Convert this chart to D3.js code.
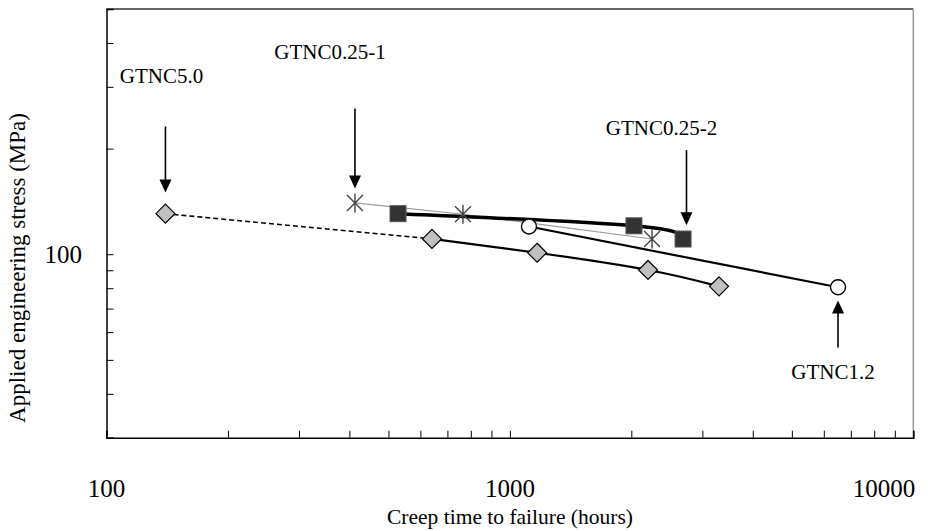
<!DOCTYPE html>
<html>
<head>
<meta charset="utf-8">
<script src="https://cdn.jsdelivr.net/npm/d3@7"></script>
<style>
  body { margin: 0; background: #fff; }
</style>
</head>
<body>
<svg id="chart" width="950" height="531"></svg>
<script>
// creep time (hours) and stress (MPa)
const gtnc50Time = [140, 641, 1168, 2200, 3299];
const gtnc50Stress = [130.5, 110.6, 101, 90.2, 81];
const gtnc025aTime = [413, 765, 2251];
const gtnc025aStress = [140, 130, 110.5];
const gtnc025bTime = [528, 2030, 2687];
const gtnc025bStress = [130.5, 120.5, 110.5];
const gtnc12Time = [1115, 6507];
const gtnc12Stress = [120, 80.5];

const xTicks = [100, 1000, 10000];
const yTickLabels = [100];

// arrow annotations: where the tip points (data units), label text
const notes = [
    { name: "GTNC5.0", t: 140, s: 150, up: false },
    { name: "GTNC0.25-1", t: 413, s: 154, up: false },
    { name: "GTNC0.25-2", t: 2740, s: 121, up: false },
    { name: "GTNC1.2", t: 6507, s: 73.8, up: true }
];

const serif = "'Liberation Serif', 'Times New Roman', serif";

const svg = d3.select("#chart")
    .attr("font-family", serif);

const x = d3.scaleLog().domain([100, 10000]).range([106.5, 913.3]);
const y = d3.scaleLog().domain([30, 500]).range([437.7, 9]);

function zip(ts, ss) {
    return ts.map((t, i) => ({ t: t, s: ss[i] }));
}

const line = d3.line()
    .x(d => x(d.t))
    .y(d => y(d.s));

const smooth = d3.line()
    .x(d => x(d.t))
    .y(d => y(d.s))
    .curve(d3.curveNatural);

// frame: top and right lines are lighter
svg.append("line").attr("x1", x(100)).attr("x2", x(10000)).attr("y1", y(500)).attr("y2", y(500))
    .attr("stroke", "#333").attr("stroke-width", 1.5);
svg.append("line").attr("x1", x(10000)).attr("x2", x(10000)).attr("y1", y(500)).attr("y2", y(30))
    .attr("stroke", "#999").attr("stroke-width", 1.5);

// y axis, ticks pointing inwards
const yTickVals = [30, 40, 50, 60, 70, 80, 90, 100, 200, 300, 400, 500];
svg.append("g")
    .attr("transform", "translate(" + x(100) + ",0)")
    .call(d3.axisRight(y).tickValues(yTickVals).tickSize(7).tickFormat(""))
    .call(g => g.select(".domain").attr("stroke-width", 1.5));

svg.append("g").selectAll("text")
    .data(yTickLabels)
    .enter().append("text")
    .attr("x", 82)
    .attr("y", d => y(d))
    .attr("dy", "0.35em")
    .attr("text-anchor", "end")
    .style("font-family", serif)
    .style("font-size", "25px")
    .text(d => d);

// x axis, ticks pointing up
const xTickVals = d3.range(1, 10).map(d => d * 100).concat(d3.range(1, 11).map(d => d * 1000));
svg.append("g")
    .attr("transform", "translate(0," + y(30) + ")")
    .call(d3.axisTop(x).tickValues(xTickVals).tickSize(7).tickFormat(""))
    .call(g => g.select(".domain").attr("stroke-width", 1.5));

svg.append("g").selectAll("text")
    .data(xTicks)
    .enter().append("text")
    .attr("x", d => d === 10000 ? x(d) + 2 : x(d))
    .attr("y", 497)
    .attr("text-anchor", d => d === 10000 ? "end" : "middle")
    .style("font-family", serif)
    .style("font-size", "25px")
    .text(d => d);

// axis titles
svg.append("text")
    .attr("x", 510)
    .attr("y", 524)
    .attr("text-anchor", "middle")
    .style("font-family", serif)
    .style("font-size", "21.5px")
    .text("Creep time to failure (hours)");

svg.append("text")
    .attr("transform", "translate(25,268) rotate(-90)")
    .attr("text-anchor", "middle")
    .style("font-family", serif)
    .style("font-size", "23px")
    .text("Applied engineering stress (MPa)");

// lines
const d50 = zip(gtnc50Time, gtnc50Stress);
const d025a = zip(gtnc025aTime, gtnc025aStress);
const d025b = zip(gtnc025bTime, gtnc025bStress);
const d12 = zip(gtnc12Time, gtnc12Stress);

svg.append("path").datum(d025a)
    .attr("d", line).attr("fill", "none").attr("stroke", "#999").attr("stroke-width", 1.2);

svg.append("path").datum(d50.slice(0, 2))
    .attr("d", line).attr("fill", "none").attr("stroke", "#000")
    .attr("stroke-width", 1.6).attr("stroke-dasharray", "5,3");

svg.append("path").datum(d50.slice(1))
    .attr("d", smooth).attr("fill", "none")
    .attr("stroke", "#000").attr("stroke-width", 2.2);

svg.append("path").datum(d12)
    .attr("d", line).attr("fill", "none").attr("stroke", "#000").attr("stroke-width", 2.2);

svg.append("path").datum(d025b)
    .attr("d", smooth).attr("fill", "none")
    .attr("stroke", "#000").attr("stroke-width", 3.5);

// markers
svg.append("g").selectAll("path")
    .data(d50)
    .enter().append("path")
    .attr("transform", d => "translate(" + x(d.t) + "," + y(d.s) + ")")
    .attr("d", "M0,-9.5L9.5,0L0,9.5L-9.5,0Z")
    .attr("fill", "#c0c0c0").attr("stroke", "#000").attr("stroke-width", 1.2);

svg.append("g").selectAll("path")
    .data(d025a)
    .enter().append("path")
    .attr("transform", d => "translate(" + x(d.t) + "," + y(d.s) + ")")
    .attr("d", "M0,-9.5L0,9.5M-8,-8L8,8M-8,8L8,-8")
    .attr("fill", "none").attr("stroke", "#444").attr("stroke-width", 1.4);

svg.append("g").selectAll("rect")
    .data(d025b)
    .enter().append("rect")
    .attr("x", d => x(d.t) - 8)
    .attr("y", d => y(d.s) - 8)
    .attr("width", 16).attr("height", 16)
    .attr("fill", "#333").attr("stroke", "#555").attr("stroke-width", 1);

svg.append("g").selectAll("circle")
    .data(d12)
    .enter().append("circle")
    .attr("cx", d => x(d.t))
    .attr("cy", d => y(d.s))
    .attr("r", 7.5)
    .attr("fill", "#fff").attr("stroke", "#000").attr("stroke-width", 1.4);

// arrows with labels
const noteG = svg.append("g").selectAll("g")
    .data(notes)
    .enter().append("g")
    .attr("transform", d => "translate(" + x(d.t) + "," + y(d.s) + ")");

// arrow shaft lengths and label offsets, per note
const shaftEnd = [-66, -80, -75, 47];
const labelDx = [-4, -25, -25, -5];
const labelDy = [-109, -129, -90, 78];

noteG.append("line")
    .attr("x1", 0).attr("x2", 0)
    .attr("y1", d => d.up ? 10 : -10)
    .attr("y2", (d, i) => shaftEnd[i])
    .attr("stroke", "#000").attr("stroke-width", 1.6);

noteG.append("path")
    .attr("d", d => d.up ? "M0,0L-6,13L6,13Z" : "M0,0L-6,-13L6,-13Z")
    .attr("fill", "#000");

noteG.append("text")
    .attr("x", (d, i) => labelDx[i])
    .attr("y", (d, i) => labelDy[i])
    .attr("text-anchor", "middle")
    .style("font-family", serif)
    .style("font-size", "21px")
    .text(d => d.name);
</script>
</body>
</html>
